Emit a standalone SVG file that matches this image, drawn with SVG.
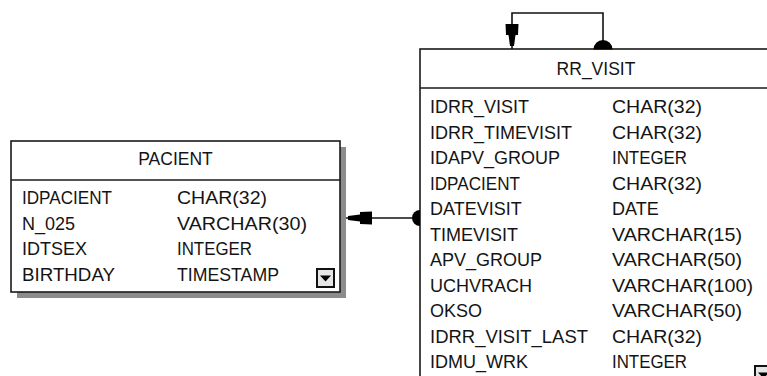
<svg xmlns="http://www.w3.org/2000/svg" width="767" height="376" viewBox="0 0 767 376">
<style>
.box{fill:#ffffff;stroke:#1a1a1a;stroke-width:1.6}
.sep{stroke:#1a1a1a;stroke-width:1.6}
.shadow{fill:#8c8c8c}
text{font-family:"Liberation Sans",Arial,sans-serif;font-size:18px;fill:#141414}
.title{text-anchor:middle;font-size:17.5px}
.ln{fill:none;stroke:#111;stroke-width:1.6}
.mk{fill:#000;stroke:none}
.btn{fill:#e6e6e6;stroke:#111;stroke-width:2}
</style>
<defs>
<g id="dropbtn">
<rect class="btn" x="0" y="0" width="17" height="18"/>
<polygon class="mk" points="3,6.5 14,6.5 8.5,12.5"/>
</g>
</defs>
<rect width="767" height="376" fill="#ffffff"/>

<g id="pacient">
<rect class="shadow" x="17" y="147" width="329" height="151"/>
<rect class="box" x="11" y="141" width="329" height="151"/>
<line class="sep" x1="11" y1="180" x2="340" y2="180"/>
<text class="title" x="175.5" y="165">PACIENT</text>
<text x="22" y="204" textLength="90" lengthAdjust="spacingAndGlyphs">IDPACIENT</text>
<text x="177" y="204" textLength="90" lengthAdjust="spacingAndGlyphs">CHAR(32)</text>
<text x="22" y="229.5">N_025</text>
<text x="177" y="229.5" textLength="130" lengthAdjust="spacingAndGlyphs">VARCHAR(30)</text>
<text x="22" y="255">IDTSEX</text>
<text x="177" y="255" textLength="75" lengthAdjust="spacingAndGlyphs">INTEGER</text>
<text x="22" y="281" textLength="93" lengthAdjust="spacingAndGlyphs">BIRTHDAY</text>
<text x="177" y="281" textLength="102" lengthAdjust="spacingAndGlyphs">TIMESTAMP</text>
<use href="#dropbtn" x="317" y="269"/>
</g>

<g id="rr_visit">
<rect class="box" x="420" y="49" width="370" height="350"/>
<line class="sep" x1="420" y1="88" x2="790" y2="88"/>
<text class="title" x="596" y="75">RR_VISIT</text>
<text x="430" y="113">IDRR_VISIT</text>
<text x="612" y="113" textLength="90" lengthAdjust="spacingAndGlyphs">CHAR(32)</text>
<text x="430" y="138.5">IDRR_TIMEVISIT</text>
<text x="612" y="138.5" textLength="90" lengthAdjust="spacingAndGlyphs">CHAR(32)</text>
<text x="430" y="164">IDAPV_GROUP</text>
<text x="612" y="164" textLength="75" lengthAdjust="spacingAndGlyphs">INTEGER</text>
<text x="430" y="189.5" textLength="90" lengthAdjust="spacingAndGlyphs">IDPACIENT</text>
<text x="612" y="189.5" textLength="90" lengthAdjust="spacingAndGlyphs">CHAR(32)</text>
<text x="430" y="215">DATEVISIT</text>
<text x="612" y="215">DATE</text>
<text x="430" y="240.5">TIMEVISIT</text>
<text x="612" y="240.5" textLength="130" lengthAdjust="spacingAndGlyphs">VARCHAR(15)</text>
<text x="430" y="266">APV_GROUP</text>
<text x="612" y="266" textLength="130" lengthAdjust="spacingAndGlyphs">VARCHAR(50)</text>
<text x="430" y="291.5">UCHVRACH</text>
<text x="612" y="291.5" textLength="141" lengthAdjust="spacingAndGlyphs">VARCHAR(100)</text>
<text x="430" y="317">OKSO</text>
<text x="612" y="317" textLength="130" lengthAdjust="spacingAndGlyphs">VARCHAR(50)</text>
<text x="430" y="342.5" textLength="158" lengthAdjust="spacingAndGlyphs">IDRR_VISIT_LAST</text>
<text x="612" y="342.5" textLength="90" lengthAdjust="spacingAndGlyphs">CHAR(32)</text>
<text x="430" y="368">IDMU_WRK</text>
<text x="612" y="368" textLength="75" lengthAdjust="spacingAndGlyphs">INTEGER</text>
<use href="#dropbtn" x="755" y="366"/>
</g>

<g id="connectors">
<line class="ln" x1="346" y1="218" x2="420" y2="218"/>
<polygon class="mk" points="348,216 360,214.5 360,212 372,211.5 372,224.5 360,224 360,221.5 348,220"/>
<path class="mk" d="M420,210 A8,8 0 0 0 420,226 Z"/>
<path class="ln" d="M512,49 V13 H603 V49"/>
<polygon class="mk" points="510,46 508.5,35 506,35 505.5,24 518.5,24 518,35 515.5,35 514,46"/>
<path class="mk" d="M593.5,49.5 A9.5,9.5 0 0 1 612.5,49.5 Z"/>
</g>
</svg>
